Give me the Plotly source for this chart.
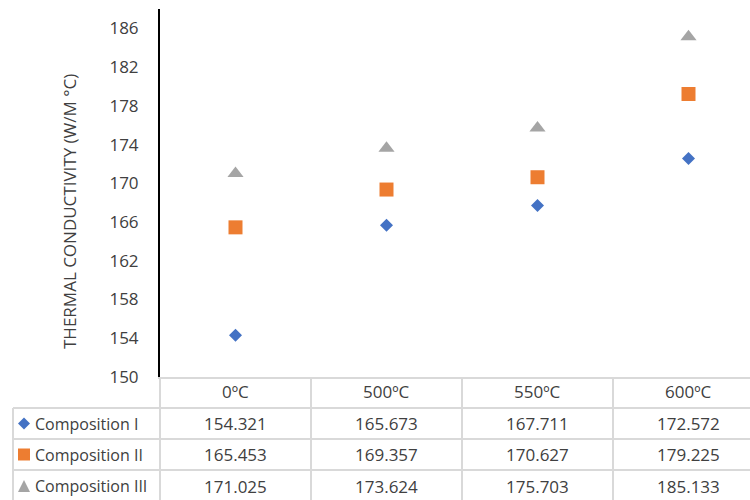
import plotly.graph_objects as go

categories = ["0ºC", "500ºC", "550ºC", "600ºC"]
series_names = ["Composition I", "Composition II", "Composition III"]
comp1 = [154.321, 165.673, 167.711, 172.572]
comp2 = [165.453, 169.357, 170.627, 179.225]
comp3 = [171.025, 173.624, 175.703, 185.133]
y_ticks = [150, 154, 158, 162, 166, 170, 174, 178, 182, 186]
y_title = "THERMAL CONDUCTIVITY (W/M °C)"

series = [comp1, comp2, comp3]
colors = ["#4472C4", "#ED7D31", "#A5A5A5"]
symbols = ["diamond", "square", "triangle-up"]
sizes = [10, 14, 14]

W, H = 750, 500
L, R, T, B = 160, 0, 9, 123
PH = H - T - B
PW = W - L - R
FONT = "Open Sans"
FS = 17
TXT = "#404040"
GRID = "#d9d9d9"

def py(p):
    return (H - B - p) / PH

def px(p):
    return (p - L) / PW

xs = list(range(len(categories)))
fig = go.Figure()
for name, vals, c, s, sz in zip(series_names, series, colors, symbols, sizes):
    fig.add_trace(go.Scatter(x=xs, y=vals, mode="markers", name=name,
                             marker=dict(color=c, symbol=s, size=sz, line=dict(width=0)),
                             cliponaxis=False, showlegend=False))

shapes = []
annotations = []
line = dict(color=GRID, width=2)
row_lines = [408, 439, 470]
for rl in row_lines:
    shapes.append(dict(type="line", xref="paper", yref="paper", x0=px(13), x1=1.0,
                       y0=py(rl), y1=py(rl), line=line, layer="below"))
shapes.append(dict(type="line", xref="paper", yref="paper", x0=px(13), x1=px(13),
                   y0=py(408), y1=py(502), line=line))
shapes.append(dict(type="line", xref="paper", yref="paper", x0=0, x1=0,
                   y0=py(377), y1=py(502), line=line))
for i in range(1, len(categories)):
    shapes.append(dict(type="line", xref="x", yref="paper", x0=i - 0.5, x1=i - 0.5,
                       y0=py(377), y1=py(502), line=line))

for i, c in enumerate(categories):
    annotations.append(dict(x=i, y=py(392), xref="x", yref="paper", text=c, showarrow=False,
                            font=dict(family=FONT, size=FS, color=TXT), xanchor="center", yanchor="middle"))
row_centers = [423.5, 454.5, 486]
for r, (name, vals, c) in enumerate(zip(series_names, series, colors)):
    yc = py(row_centers[r])
    for i, v in enumerate(vals):
        annotations.append(dict(x=i, y=yc, xref="x", yref="paper", text=f"{v:.3f}", showarrow=False,
                                font=dict(family=FONT, size=FS, color=TXT), xanchor="center", yanchor="middle"))
    annotations.append(dict(x=px(33), y=yc, xref="paper", yref="paper", text=name, showarrow=False,
                            font=dict(family=FONT, size=FS - 1, color=TXT), xanchor="left", yanchor="middle"))

kx = px(24)
shapes.append(dict(type="path", xref="paper", yref="paper", xsizemode="pixel", ysizemode="pixel",
                   xanchor=kx, yanchor=py(row_centers[0]), path="M -6,0 L 0,6 L 6,0 L 0,-6 Z",
                   fillcolor=colors[0], line=dict(width=0)))
shapes.append(dict(type="path", xref="paper", yref="paper", xsizemode="pixel", ysizemode="pixel",
                   xanchor=kx, yanchor=py(row_centers[1]), path="M -6,-6 L 6,-6 L 6,6 L -6,6 Z",
                   fillcolor=colors[1], line=dict(width=0)))
shapes.append(dict(type="path", xref="paper", yref="paper", xsizemode="pixel", ysizemode="pixel",
                   xanchor=kx, yanchor=py(row_centers[2]), path="M -6,-6 L 6,-6 L 0,6 Z",
                   fillcolor=colors[2], line=dict(width=0)))

annotations.append(dict(x=px(70), y=py(212), xref="paper", yref="paper", text=y_title, showarrow=False,
                        textangle=-90, font=dict(family=FONT, size=FS, color=TXT),
                        xanchor="center", yanchor="middle"))

fig.update_layout(
    width=W, height=H, margin=dict(l=L, r=R, t=T, b=B, pad=0),
    paper_bgcolor="white", plot_bgcolor="white",
    shapes=shapes, annotations=annotations,
    xaxis=dict(range=[-0.5, -0.5 + PW / 151.0], showgrid=False, zeroline=False, showticklabels=False,
               showline=True, linecolor=GRID, linewidth=2, ticks="", fixedrange=True),
    yaxis=dict(range=[150, 188], tickvals=y_ticks, showgrid=False, zeroline=False,
               showline=True, linecolor="black", linewidth=2, ticks="", ticklabelstandoff=16,
               tickfont=dict(family=FONT, size=FS, color=TXT), fixedrange=True),
)
fig.write_html("out.html", config={"displayModeBar": False},
               post_script="document.body.style.margin='0';document.body.style.overflow='hidden';")
